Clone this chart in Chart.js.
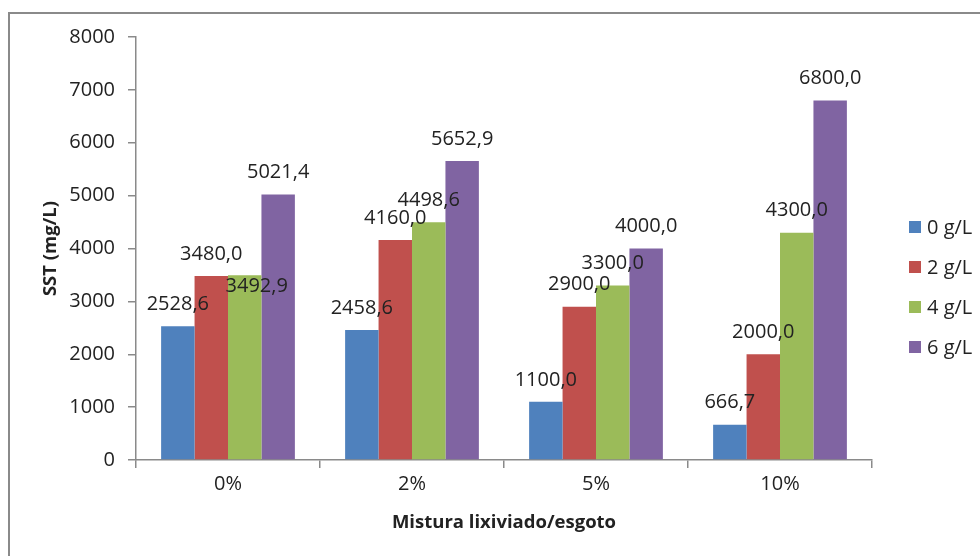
<!DOCTYPE html>
<html>
<head>
<meta charset="utf-8">
<script src="https://cdn.jsdelivr.net/npm/chart.js@4.4.1/dist/chart.umd.min.js"></script>
<style>
  html, body { margin: 0; padding: 0; background: #ffffff; }
  #wrap { position: relative; width: 980px; height: 556px; overflow: hidden; }
  #frame { position: absolute; left: 8px; top: 12px; right: -10px; bottom: -10px;
           border-top: 2px solid #8a8a8a; border-left: 2px solid #8a8a8a; }
  #c { position: absolute; left: 0; top: 0; }
</style>
</head>
<body>
<div id="wrap">
  <div id="frame"></div>
  <canvas id="c" width="980" height="556"></canvas>
</div>
<script>
// ---- data ----
const categories = ['0%', '2%', '5%', '10%'];
const seriesNames = ['0 g/L', '2 g/L', '4 g/L', '6 g/L'];
const s0 = [2528.6, 2458.6, 1100.0, 666.7];
const s2 = [3480.0, 4160.0, 2900.0, 2000.0];
const s4 = [3492.9, 4498.6, 3300.0, 4300.0];
const s6 = [5021.4, 5652.9, 4000.0, 6800.0];
const yTicks = [0, 1000, 2000, 3000, 4000, 5000, 6000, 7000, 8000];
const xTitle = 'Mistura lixiviado/esgoto';
const yTitle = 'SST (mg/L)';

// ---- styles ----
const colors = ['#4F81BD', '#C0504D', '#9BBB59', '#8064A2'];
const FONT = '"Open Sans"';
const textColor = '#222222';
const axisColor = '#8a8a8a';
const FS = 20;
// label nudges (pixels) for labels Excel moved: key = datasetIndex-index
const labelNudge = { '2-0': { dx: 12, dy: 33 } };

const fmt = v => v.toFixed(1).replace('.', ',');

const valueLabels = {
  id: 'valueLabels',
  afterDatasetsDraw(chart) {
    const ctx = chart.ctx;
    ctx.save();
    ctx.font = FS + 'px ' + FONT;
    ctx.fillStyle = textColor;
    ctx.textAlign = 'center';
    ctx.textBaseline = 'middle';
    chart.data.datasets.forEach((ds, di) => {
      const meta = chart.getDatasetMeta(di);
      meta.data.forEach((bar, i) => {
        const n = labelNudge[di + '-' + i] || { dx: 0, dy: 0 };
        ctx.fillText(fmt(ds.data[i]), bar.x + n.dx, bar.y - 22 + n.dy);
      });
    });
    ctx.restore();
  }
};

const customLegend = {
  id: 'customLegend',
  afterDraw(chart) {
    const ctx = chart.ctx;
    const x0 = chart.chartArea.right + 37;
    const yc = 287;
    const gap = 40;
    const n = chart.data.datasets.length;
    ctx.save();
    ctx.font = FS + 'px ' + FONT;
    ctx.textAlign = 'left';
    ctx.textBaseline = 'middle';
    chart.data.datasets.forEach((ds, i) => {
      const y = yc + (i - (n - 1) / 2) * gap;
      ctx.fillStyle = ds.backgroundColor;
      ctx.fillRect(x0, y - 6, 12, 12);
      ctx.fillStyle = textColor;
      ctx.fillText(ds.label, x0 + 18, y + 1);
    });
    ctx.restore();
  }
};

const seriesData = [s0, s2, s4, s6];
new Chart(document.getElementById('c'), {
  type: 'bar',
  data: {
    labels: categories,
    datasets: seriesNames.map((name, k) => ({
      label: name,
      data: seriesData[k],
      backgroundColor: colors[k],
      borderWidth: 0,
      categoryPercentage: 0.727,
      barPercentage: 1.0
    }))
  },
  options: {
    responsive: false,
    animation: false,
    devicePixelRatio: 1,
    layout: { padding: { top: 37, right: 108, bottom: 0, left: 0 } },
    plugins: {
      legend: { display: false },
      tooltip: { enabled: false }
    },
    scales: {
      x: {
        grid: { offset: true, drawOnChartArea: false, drawTicks: true, tickLength: 8, color: axisColor, lineWidth: 1.5 },
        border: { color: axisColor, width: 1.5 },
        ticks: { font: { family: FONT, size: FS }, color: textColor, padding: 4 },
        title: { display: true, text: xTitle, font: { family: FONT, size: 18.5, weight: 'bold' }, color: textColor, padding: { top: 0, bottom: 22 } },
        afterFit: s => { s.height = 96; }
      },
      y: {
        min: 0, max: 8000,
        afterBuildTicks: s => { s.ticks = yTicks.map(v => ({ value: v })); },
        grid: { drawOnChartArea: false, drawTicks: true, tickLength: 8, color: axisColor, lineWidth: 1.5 },
        border: { color: axisColor, width: 1.5 },
        ticks: { font: { family: FONT, size: FS }, color: textColor, padding: 13, callback: v => String(v) },
        title: { display: true, text: yTitle, font: { family: FONT, size: 18.5, weight: 'bold' }, color: textColor, padding: { top: 40, bottom: 0 } },
        afterFit: s => { s.width = 136; }
      }
    }
  },
  plugins: [valueLabels, customLegend]
});
</script>
</body>
</html>
